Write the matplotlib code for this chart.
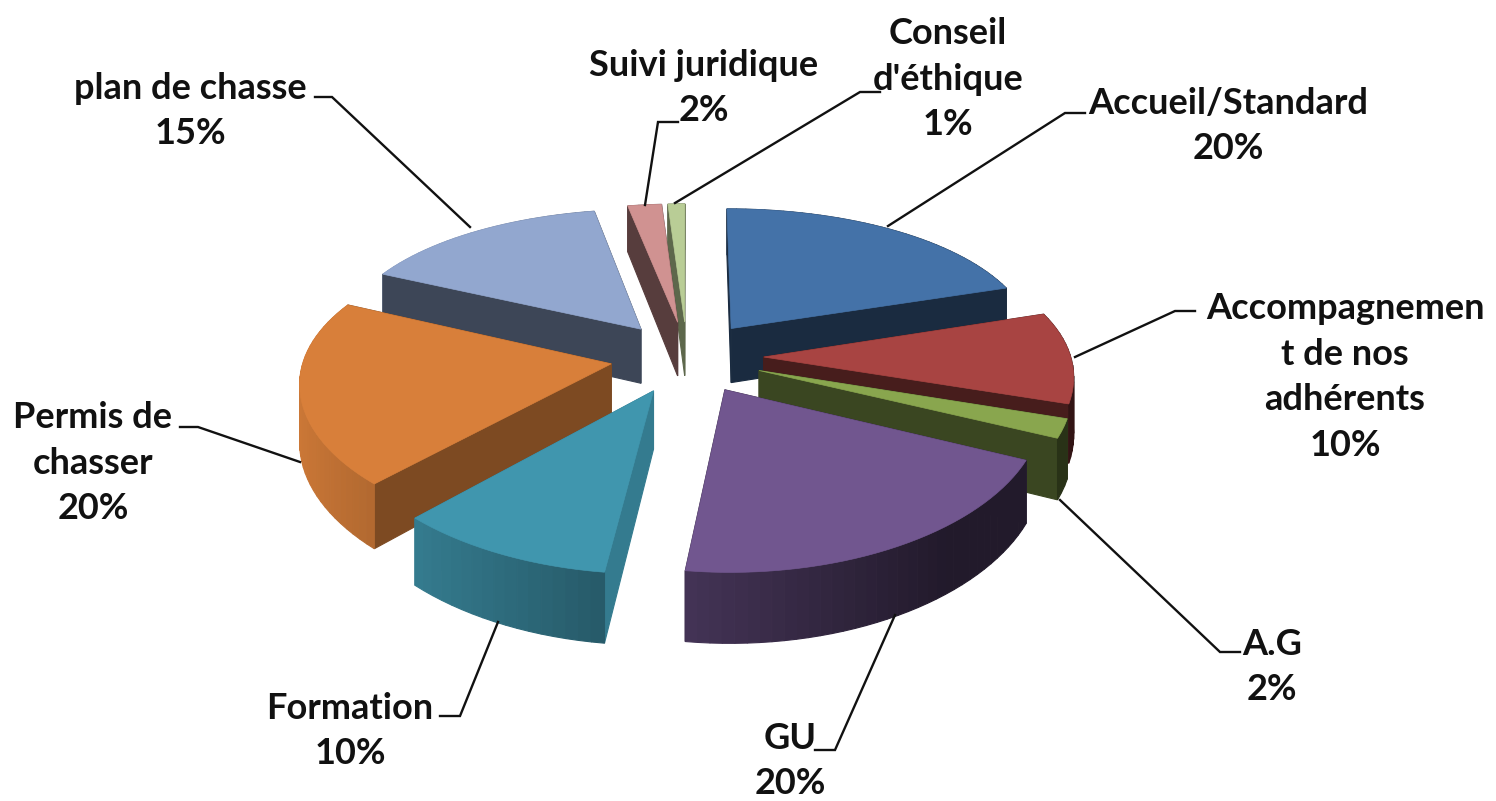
import numpy as np
import matplotlib
matplotlib.use("Agg")
import matplotlib.pyplot as plt

categories = ["Accueil/Standard", "Accompagnemen\nt de nos\nadhérents", "A.G", "GU", "Formation",
              "Permis de\nchasser", "plan de chasse", "Suivi juridique", "Conseil\nd'éthique"]
values = [20, 10, 2, 20, 10, 20, 15, 2, 1]
colors = ["#4472A8", "#A84442", "#89A64E", "#71568F", "#4096AE", "#D87F3A", "#92A7CF", "#D09291", "#B9CD96"]
radial_shade = [0.38, 0.42, 0.42, 0.45, 0.82, 0.58, 0.42, 0.42, 0.5]
label_text = ["Accueil/Standard\n20%", "Accompagnemen\nt de nos\nadhérents\n10%", "A.G\n2%", "GU\n20%",
              "Formation\n10%", "Permis de\nchasser\n20%", "plan de chasse\n15%",
              "Suivi juridique\n2%", "Conseil\nd'éthique\n1%"]
label_pos = [(1228, 126), (1345, 377), (1272, 667), (790, 761), (350, 731), (93, 463), (190, 111), (704, 88), (948, 79)]
leaders = [[(1085, 113), (1065, 113), (888, 226)],
           [(1195, 311), (1175, 311), (1075, 357)],
           [(1240, 652), (1220, 652), (1060, 500)],
           [(815, 750), (835, 750), (895, 615)],
           [(440, 716), (460, 716), (498, 622)],
           [(180, 427), (198, 427), (300, 462)],
           [(315, 97), (332, 97), (470, 227)],
           [(678, 122), (658, 122), (645, 205)],
           [(880, 92), (860, 92), (675, 203)]]

CX, CY, RX, RY, D, E, H = 687, 357, 307, 145, 6.8, 0.25, 56


def project(u, v, drop=False):
    s = D / (D - v)
    x = CX + RX * u * s ** 0.75
    y = CY + RY * v * s
    if drop:
        y = y + H * s ** 1.2
    return x, y


def shade(color, f):
    rgb = np.array(matplotlib.colors.to_rgb(color))
    return tuple(np.clip(rgb * f, 0, 1))


fig = plt.figure(figsize=(14.96, 8.01), dpi=100, facecolor="white")
ax = fig.add_axes([0, 0, 1, 1])
ax.set_xlim(0, 1496)
ax.set_ylim(801, 0)
ax.axis("off")

fractions = np.array(values) / sum(values)
ends = np.cumsum(fractions) * 2 * np.pi
starts = ends - fractions * 2 * np.pi
mids = (starts + ends) / 2
order = np.argsort(-np.cos(mids))

for i in order:
    a0, a1, am = starts[i], ends[i], mids[i]
    ou, ov = E * np.sin(am), -E * np.cos(am)
    th = np.linspace(a0, a1, max(int((a1 - a0) * 30), 4))
    u = ou + np.sin(th)
    v = ov - np.cos(th)
    faces = []
    for j in range(len(th) - 1):
        us, vs = [u[j], u[j + 1]], [v[j], v[j + 1]]
        f = np.clip(0.55 - 0.4 * np.sin((th[j] + th[j + 1]) / 2), 0.3, 1.0)
        faces.append((np.mean(vs), us, vs, shade(colors[i], f)))
    for k in (0, -1):
        us, vs = [ou, u[k]], [ov, v[k]]
        faces.append((np.mean(vs), us, vs, shade(colors[i], radial_shade[i])))
    faces.sort(key=lambda q: q[0])
    for _, us, vs, col in faces:
        x0, y0 = project(np.array(us), np.array(vs))
        x1, y1 = project(np.array(us), np.array(vs), drop=True)
        ax.fill(np.r_[x0, x1[::-1]], np.r_[y0, y1[::-1]], facecolor=col, edgecolor=col, linewidth=0.8)
    tx, ty = project(np.r_[ou, u], np.r_[ov, v])
    ax.fill(tx, ty, facecolor=colors[i], edgecolor=colors[i], linewidth=0.5)

for pts in leaders:
    xs, ys = zip(*pts)
    ax.plot(xs, ys, color="#111111", lw=1.7, solid_joinstyle="miter")

for txt, (x, y) in zip(label_text, label_pos):
    ax.text(x, y, txt, ha="center", va="center", family="Lato", weight="bold",
            fontsize=26, linespacing=1.48, color="#111111")

fig.savefig("out.png", dpi=100, facecolor="white")
